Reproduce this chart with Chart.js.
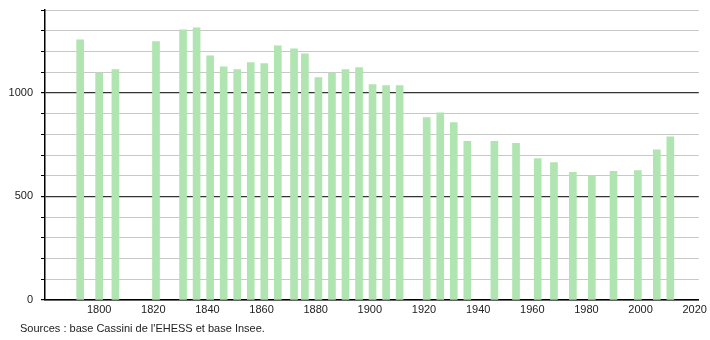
<!DOCTYPE html>
<html>
<head>
<meta charset="utf-8">
<script src="https://cdn.jsdelivr.net/npm/chart.js@4"></script>
<style>
  html, body { margin: 0; padding: 0; background: #fff; }
  #wrap { position: relative; width: 710px; height: 340px; }
  #src { position: absolute; left: 20px; top: 322px; font: 11px "Liberation Sans", Arial, sans-serif; color: #222; white-space: nowrap; }
</style>
</head>
<body>
<div id="wrap">
  <canvas id="c" width="710" height="340"></canvas>
  <div id="src">Sources : base Cassini de l'EHESS et base Insee.</div>
</div>
<script>
const years = [1793, 1800, 1806, 1821, 1831, 1836, 1841, 1846, 1851, 1856, 1861, 1866, 1872, 1876, 1881, 1886, 1891, 1896, 1901, 1906, 1911, 1921, 1926, 1931, 1936, 1946, 1954, 1962, 1968, 1975, 1982, 1990, 1999, 2006, 2011];
const population = [1256, 1096, 1112, 1247, 1304, 1314, 1179, 1126, 1112, 1146, 1141, 1227, 1213, 1189, 1074, 1096, 1112, 1122, 1040, 1035, 1035, 881, 904, 857, 766, 766, 756, 683, 664, 616, 601, 621, 625, 725, 788];
const xTickYears = [1800, 1820, 1840, 1860, 1880, 1900, 1920, 1940, 1960, 1980, 2000, 2020];
const yLabelValues = [0, 500, 1000];

const FONT = { family: '"Liberation Sans", Arial, sans-serif', size: 11 };

new Chart(document.getElementById('c'), {
  type: 'bar',
  data: {
    datasets: [{
      data: years.map((y, i) => ({ x: y, y: population[i] })),
      backgroundColor: '#b0e4b0',
      borderWidth: 0,
      barThickness: 7
    }]
  },
  options: {
    responsive: false,
    animation: false,
    layout: { padding: { top: 10, right: 9, left: 0, bottom: 0 } },
    plugins: { legend: { display: false }, tooltip: { enabled: false } },
    scales: {
      x: {
        type: 'linear',
        offset: false,
        min: 1780,
        max: 2021.5,
        afterBuildTicks: (s) => { s.ticks = xTickYears.map(v => ({ value: v })); },
        afterFit: (s) => { s.height = 40; },
        ticks: { font: FONT, color: '#222', padding: 3, maxRotation: 0, autoSkip: false,
                 callback: (v) => String(v) },
        grid: { display: false, drawTicks: false, offset: false },
        border: { display: true, color: '#000', width: 1.5 }
      },
      y: {
        min: 0,
        max: 1400,
        afterFit: (s) => { s.width = 45; s.paddingTop = 0; },
        ticks: { stepSize: 100, font: FONT, color: '#222', padding: 8, autoSkip: false,
                 callback: (v) => yLabelValues.includes(v) ? String(v) : '' },
        grid: {
          color: (ctx) => (ctx.tick && ctx.tick.value % 500 === 0) ? '#333' : '#c8c8c8',
          tickColor: '#000',
          tickLength: 4,
          lineWidth: (ctx) => (ctx.tick && ctx.tick.value % 500 === 0) ? 1.2 : 1
        },
        border: { display: true, color: '#000', width: 1.5 }
      }
    }
  }
});
</script>
</body>
</html>
